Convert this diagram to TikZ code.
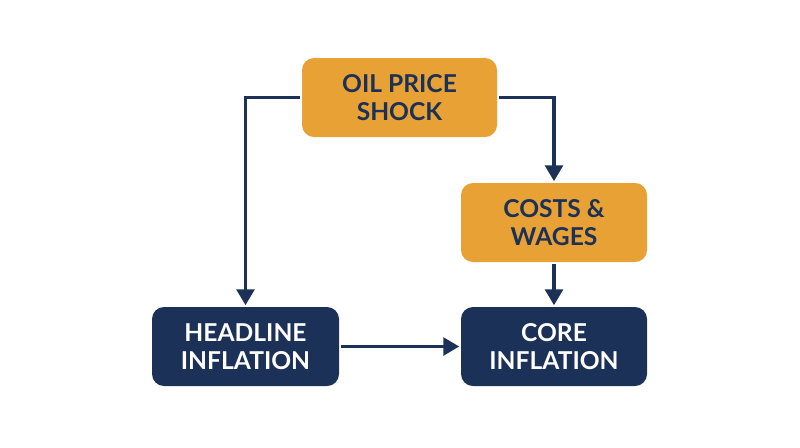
\documentclass[tikz,border=0pt]{standalone}
\usepackage{fontspec}
\setmainfont{Lato}
\usetikzlibrary{arrows.meta}
\definecolor{oilorange}{HTML}{E8A135}
\definecolor{navyblue}{HTML}{1B3157}
\begin{document}
\begin{tikzpicture}[line width=2pt,>={Triangle[length=9pt,width=10pt]}]
	\useasboundingbox (0,0) rectangle (16,-8.94);
	\begin{scope}[every node/.style={rounded corners=0.24cm,align=center,
		minimum height=1.58cm,minimum width=3.74cm,inner sep=0pt,
		font=\fontsize{14}{16}\selectfont\bfseries}]
	\node[fill=oilorange,text=navyblue,minimum width=3.9cm] (oil) at (7.99,-1.95) {OIL PRICE\\SHOCK};
	\node[fill=oilorange,text=navyblue,minimum width=3.72cm] (costs) at (11.08,-4.45) {COSTS \&\\WAGES};
	\node[fill=navyblue,text=white] (head) at (4.91,-6.93) {HEADLINE\\INFLATION};
	\node[fill=navyblue,text=white,minimum width=3.72cm] (core) at (11.08,-6.93) {CORE\\INFLATION};
	\end{scope}
	
	\draw[navyblue,->] (oil.west) -| (head.north);
	\draw[navyblue,->] (oil.east) -| (costs.north);
	\draw[navyblue,->] (costs) -- (core);
	\draw[navyblue,->] (head) -- (core);
\end{tikzpicture}
\end{document}
